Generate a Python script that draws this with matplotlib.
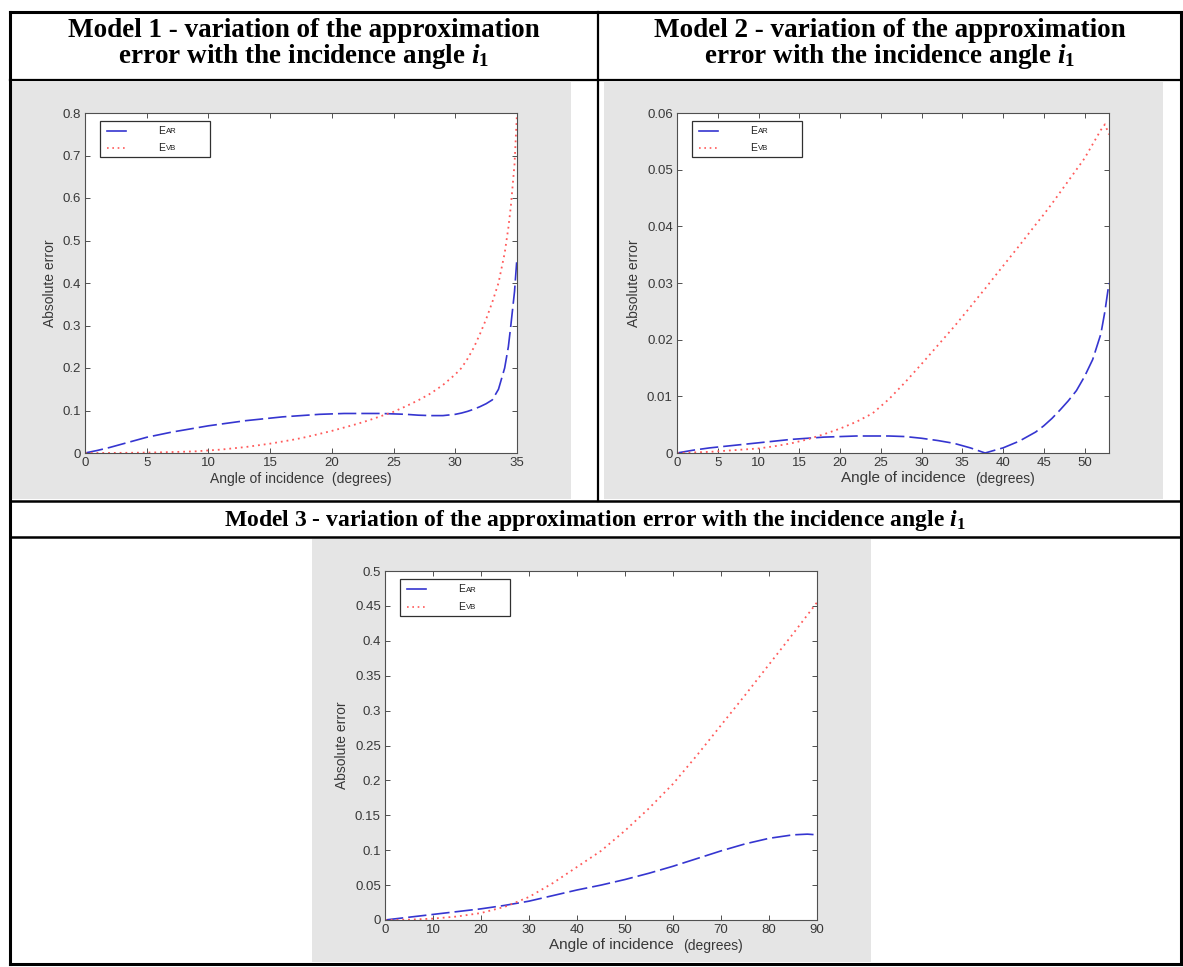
import matplotlib
matplotlib.use("Agg")
import matplotlib.pyplot as plt
from matplotlib.lines import Line2D
from matplotlib.patches import Rectangle

# ---------------- data ----------------
m1_x = [0, 1, 2, 3, 4, 5, 6, 7, 8, 9, 10, 11, 12, 13, 14, 15, 16, 17, 18, 19, 20,
        21, 22, 23, 24, 25, 26, 27, 28, 29, 30, 30.5, 31, 31.5, 32, 32.5, 33, 33.5,
        34, 34.3, 34.5, 34.8, 35]
m1_ear = [0, 0.006, 0.013, 0.021, 0.029, 0.037, 0.043, 0.049, 0.054, 0.059, 0.064,
          0.068, 0.072, 0.076, 0.079, 0.082, 0.085, 0.087, 0.089, 0.091, 0.092,
          0.093, 0.093, 0.093, 0.093, 0.092, 0.091, 0.089, 0.088, 0.088, 0.091,
          0.094, 0.098, 0.103, 0.109, 0.116, 0.125, 0.15, 0.2, 0.25, 0.3, 0.38, 0.46]
m1_evb = [0, 0.0001, 0.0002, 0.0004, 0.0006, 0.001, 0.0015, 0.0022, 0.003, 0.004,
          0.006, 0.008, 0.011, 0.014, 0.018, 0.022, 0.027, 0.032, 0.038, 0.045,
          0.052, 0.06, 0.068, 0.077, 0.087, 0.097, 0.11, 0.124, 0.14, 0.16, 0.185,
          0.2, 0.222, 0.248, 0.28, 0.315, 0.355, 0.4, 0.47, 0.53, 0.58, 0.68, 0.8]

m2_x = [0, 2, 4, 6, 8, 10, 12, 14, 16, 18, 20, 22, 24, 26, 28, 30, 32, 34, 36, 37,
        37.8, 39, 40, 42, 44, 45, 46, 47, 48, 49, 50, 51, 52, 52.5, 53]
m2_ear = [0, 0.0005, 0.0009, 0.0012, 0.0015, 0.0018, 0.0021, 0.0024, 0.0026,
          0.0028, 0.0029, 0.003, 0.003, 0.003, 0.0029, 0.0026, 0.0022, 0.0017,
          0.0009, 0.0004, 0.0, 0.0005, 0.0009, 0.0021, 0.0037, 0.0048, 0.0061,
          0.0076, 0.0092, 0.011, 0.0135, 0.0165, 0.021, 0.025, 0.03]
m2_evb = [0, 0.0001, 0.0002, 0.0004, 0.0006, 0.0008, 0.0012, 0.0017, 0.0024,
          0.0033, 0.0043, 0.0055, 0.007, 0.0095, 0.0125, 0.0157, 0.019, 0.0223,
          0.0258, 0.0276, 0.029, 0.0312, 0.033, 0.0366, 0.0403, 0.0421, 0.044,
          0.046, 0.048, 0.05, 0.052, 0.0545, 0.057, 0.058, 0.0562]

m3_x = [0, 5, 10, 15, 20, 25, 30, 35, 40, 45, 50, 55, 60, 65, 70, 75, 80, 85, 88, 90]
m3_ear = [0, 0.004, 0.008, 0.012, 0.016, 0.021, 0.027, 0.035, 0.043, 0.05, 0.058,
          0.067, 0.077, 0.088, 0.099, 0.109, 0.117, 0.122, 0.123, 0.122]
m3_evb = [0, 0.0005, 0.002, 0.005, 0.01, 0.019, 0.033, 0.053, 0.076, 0.099, 0.128,
          0.16, 0.195, 0.236, 0.279, 0.322, 0.366, 0.41, 0.437, 0.455]

m1_xticks = [0, 5, 10, 15, 20, 25, 30, 35]
m1_yticks = [0, 0.1, 0.2, 0.3, 0.4, 0.5, 0.6, 0.7, 0.8]
m1_ylabels = ["0", "0.1", "0.2", "0.3", "0.4", "0.5", "0.6", "0.7", "0.8"]
m2_xticks = [0, 5, 10, 15, 20, 25, 30, 35, 40, 45, 50]
m2_yticks = [0, 0.01, 0.02, 0.03, 0.04, 0.05, 0.06]
m2_ylabels = ["0", "0.01", "0.02", "0.03", "0.04", "0.05", "0.06"]
m3_xticks = [0, 10, 20, 30, 40, 50, 60, 70, 80, 90]
m3_yticks = [0, 0.05, 0.1, 0.15, 0.2, 0.25, 0.3, 0.35, 0.4, 0.45, 0.5]
m3_ylabels = ["0", "0.05", "0.1", "0.15", "0.2", "0.25", "0.3", "0.35", "0.4",
              "0.45", "0.5"]

titles = [("Model 1 - variation of the approximation",
           r"error with the incidence angle $i_{1}$"),
          ("Model 2 - variation of the approximation",
           r"error with the incidence angle $i_{1}$"),
          r"Model 3 - variation of the approximation error with the incidence angle $i_{1}$"]
legend_names = [("E", "AR"), ("E", "VB")]

# ---------------- style ----------------
plt.rcParams['mathtext.fontset'] = 'custom'
plt.rcParams['mathtext.it'] = 'Liberation Serif:italic:bold'
plt.rcParams['mathtext.rm'] = 'Liberation Serif:bold'
plt.rcParams['mathtext.bf'] = 'Liberation Serif:bold'
plt.rcParams['font.family'] = ['Liberation Sans', 'DejaVu Sans']

W, H = 1183, 967
fig = plt.figure(figsize=(W / 100, H / 100), dpi=100)
fig.patch.set_facecolor('white')


def fx(x):
    return x / W


def fy(y):
    return 1 - y / H


def hline(y, x0, x1, lw):
    fig.add_artist(Line2D([fx(x0), fx(x1)], [fy(y), fy(y)], color='black', lw=lw,
                          transform=fig.transFigure, solid_capstyle='projecting'))


def vline(x, y0, y1, lw):
    fig.add_artist(Line2D([fx(x), fx(x)], [fy(y0), fy(y1)], color='black', lw=lw,
                          transform=fig.transFigure, solid_capstyle='projecting'))


def gray_box(x0, y0, x1, y1):
    fig.add_artist(Rectangle((fx(x0), fy(y1)), fx(x1) - fx(x0), fy(y0) - fy(y1),
                             transform=fig.transFigure, facecolor='#e5e5e5',
                             edgecolor='none', zorder=0))


def make_axes(x0, y0, x1, y1):
    return fig.add_axes([fx(x0), fy(y1), fx(x1) - fx(x0), fy(y0) - fy(y1)])


BLUE = '#3535d0'
RED = '#ff5a5a'
TXT = '#383838'

gray_box(12, 82, 571, 499)
gray_box(604, 82, 1163, 499)
gray_box(312, 539, 871, 962)

ax1 = make_axes(85, 113, 517, 453)
ax2 = make_axes(677, 113, 1109, 453)
ax3 = make_axes(385, 571, 817, 920)


def style(ax, x, ear, evb, xticks, xlim, yticks, ylabels, ylim):
    ax.set_facecolor('white')
    ax.plot(x, ear, color=BLUE, lw=1.2, linestyle=(0, (11, 3)))
    ax.plot(x, evb, color=RED, lw=1.3, linestyle=(0, (1, 2.2)))
    ax.set_xlim(*xlim)
    ax.set_ylim(*ylim)
    ax.set_xticks(xticks)
    ax.set_xticklabels([str(t) for t in xticks])
    ax.set_yticks(yticks)
    ax.set_yticklabels(ylabels)
    ax.tick_params(direction='in', top=True, right=True, length=3.5, width=0.7,
                   colors='#505050', labelcolor=TXT, labelsize=9.5, pad=3)
    for s in ax.spines.values():
        s.set_color('#505050')
        s.set_linewidth(0.8)
    ax.set_ylabel('Absolute error', fontsize=10, color=TXT, labelpad=4)
    # legend drawn as a small box in the upper-left corner
    ax.add_patch(Rectangle((0.035, 0.872), 0.255, 0.105, transform=ax.transAxes,
                           facecolor='white', edgecolor='#303030', lw=0.9,
                           zorder=5))
    rows = [(0.947, BLUE, '-'), (0.898, RED, (0, (1, 2.2)))]
    for (ypos, col, ls), (big, small) in zip(rows, legend_names):
        ax.add_line(Line2D([0.052, 0.095], [ypos, ypos], transform=ax.transAxes,
                           color=col, lw=1.2, linestyle=ls, zorder=6))
        ax.text(0.17, ypos, big, transform=ax.transAxes, fontsize=7.5,
                va='center', ha='left', color='#202020', zorder=6)
        ax.annotate(small, xy=(0.17, ypos), xycoords='axes fraction',
                    xytext=(5.3, -0.6), textcoords='offset points', fontsize=5.6,
                    va='center', ha='left', color='#202020', zorder=6)


style(ax1, m1_x, m1_ear, m1_evb, m1_xticks, (0, 35), m1_yticks, m1_ylabels, (0, 0.8))
style(ax2, m2_x, m2_ear, m2_evb, m2_xticks, (0, 53), m2_yticks, m2_ylabels, (0, 0.06))
style(ax3, m3_x, m3_ear, m3_evb, m3_xticks, (0, 90), m3_yticks, m3_ylabels, (0, 0.5))

ax1.set_xlabel('Angle of incidence  (degrees)', fontsize=10, color=TXT, labelpad=2)
for ax in (ax2, ax3):
    ax.text(0.668, -0.052, 'Angle of incidence', transform=ax.transAxes,
            fontsize=11, ha='right', va='top', color=TXT)
    ax.text(0.69, -0.055, '(degrees)', transform=ax.transAxes,
            fontsize=10, ha='left', va='top', color=TXT)

# ---------------- table borders and header text ----------------
hline(12, 10, 1181, 2.2)
hline(964, 10, 1181, 2.2)
vline(10, 12, 964, 2.2)
vline(1181, 12, 964, 2.2)
hline(80, 10, 1181, 1.6)
vline(598, 12, 501, 1.6)
hline(501, 10, 1181, 1.8)
hline(537, 10, 1181, 1.8)

hfont = dict(family='Liberation Serif', weight='bold', color='black',
             ha='center', va='baseline')
for cx, (l1, l2) in zip([304, 889.5], titles[:2]):
    fig.text(fx(cx), fy(37), l1, fontsize=19.5, **hfont)
    fig.text(fx(cx), fy(63), l2, fontsize=19.5, **hfont)
fig.text(fx(595), fy(526), titles[2], fontsize=17, **hfont)

fig.savefig('out.png', dpi=100, facecolor='white')
